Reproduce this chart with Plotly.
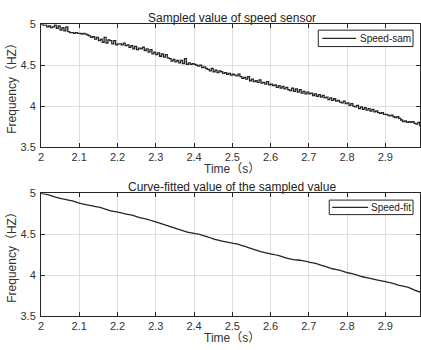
import numpy as np
import plotly.graph_objects as go

# ---- data ----
t_sam = [round(2.0 + 0.005 * i, 3) for i in range(200)]
speed_sam = [
    5.00, 4.99, 4.99, 4.97, 4.98, 4.96, 4.97, 4.99, 4.95, 4.98, 4.93, 4.96, 4.92, 4.97, 4.91, 4.90, 4.90, 4.89, 4.90, 4.89,
    4.89, 4.88, 4.89, 4.88, 4.87, 4.86, 4.84, 4.85, 4.82, 4.84, 4.80, 4.82, 4.78, 4.84, 4.77, 4.81, 4.80, 4.76, 4.80, 4.75,
    4.76, 4.76, 4.75, 4.77, 4.74, 4.75, 4.72, 4.74, 4.70, 4.73, 4.69, 4.71, 4.70, 4.72, 4.68, 4.70, 4.66, 4.69, 4.64, 4.66,
    4.63, 4.65, 4.61, 4.64, 4.60, 4.63, 4.59, 4.58, 4.55, 4.57, 4.54, 4.56, 4.53, 4.56, 4.52, 4.58, 4.51, 4.53, 4.51, 4.52,
    4.51, 4.50, 4.49, 4.50, 4.47, 4.48, 4.46, 4.45, 4.43, 4.46, 4.42, 4.44, 4.41, 4.43, 4.42, 4.40, 4.41, 4.39, 4.40, 4.38,
    4.39, 4.38, 4.37, 4.39, 4.36, 4.34, 4.35, 4.33, 4.36, 4.31, 4.33, 4.30, 4.31, 4.29, 4.32, 4.28, 4.29, 4.27, 4.30, 4.26,
    4.27, 4.25, 4.26, 4.23, 4.25, 4.22, 4.24, 4.21, 4.23, 4.20, 4.19, 4.22, 4.18, 4.21, 4.17, 4.20, 4.16, 4.18, 4.15, 4.17,
    4.15, 4.16, 4.13, 4.15, 4.12, 4.14, 4.11, 4.13, 4.10, 4.11, 4.08, 4.10, 4.07, 4.09, 4.06, 4.07, 4.05, 4.04, 4.06, 4.03,
    4.04, 4.01, 4.03, 4.00, 3.99, 4.01, 3.97, 3.99, 3.96, 3.98, 3.95, 3.97, 3.94, 3.96, 3.93, 3.94, 3.92, 3.91, 3.92, 3.90,
    3.90, 3.89, 3.88, 3.89, 3.87, 3.86, 3.87, 3.85, 3.83, 3.81, 3.82, 3.80, 3.81, 3.80, 3.81, 3.79, 3.78, 3.80, 3.76, 3.78,
]

t_fit = [round(2.0 + 0.02 * i, 2) for i in range(51)]
speed_fit = [
    5.00, 4.98, 4.95, 4.93, 4.91, 4.88, 4.86, 4.84, 4.82, 4.79,
    4.77, 4.75, 4.73, 4.70, 4.68, 4.65, 4.62, 4.59, 4.56, 4.53,
    4.51, 4.49, 4.46, 4.43, 4.41, 4.39, 4.37, 4.34, 4.31, 4.28,
    4.26, 4.24, 4.21, 4.19, 4.18, 4.16, 4.14, 4.11, 4.08, 4.06,
    4.03, 4.01, 3.98, 3.96, 3.94, 3.92, 3.90, 3.87, 3.85, 3.81, 3.78,
]

x_ticks = [2, 2.1, 2.2, 2.3, 2.4, 2.5, 2.6, 2.7, 2.8, 2.9, 3]
x_ticktext = ["2", "2.1", "2.2", "2.3", "2.4", "2.5", "2.6", "2.7", "2.8", "2.9", "3"]
y_ticks = [3.5, 4, 4.5, 5]
y_ticktext = ["3.5", "4", "4.5", "5"]

titles = ["Sampled value of speed sensor", "Curve-fitted value of the sampled value"]
legend_names = ["Speed-sam", "Speed-fit"]
xlabel = "Time（s）"
ylabel = "Frequency（HZ）"

# ---- figure ----
W, H = 421, 350
FONT = "Arial, Liberation Sans, Noto Sans CJK SC, sans-serif"
AX = "#262626"
GRID = "#dedede"
LINE = "#262626"

def py(px):
    return 1 - px / H

def pxx(px):
    return (px - 41) / 380

top_dom = [py(146), py(19)]
bot_dom = [py(321), py(194)]

fig = go.Figure()
fig.add_trace(go.Scatter(x=t_sam, y=speed_sam, mode="lines", line=dict(color=LINE, width=1.3, shape="hv"),
                         name=legend_names[0], xaxis="x", yaxis="y", showlegend=False))
fig.add_trace(go.Scatter(x=t_fit, y=speed_fit, mode="lines", line=dict(color=LINE, width=1.3, shape="spline"),
                         name=legend_names[1], xaxis="x2", yaxis="y2", showlegend=False))

xr = [2, 2.9906]

def xaxis(anchor):
    return dict(range=xr, anchor=anchor, tickvals=x_ticks, ticktext=x_ticktext, ticks="inside", ticklen=4,
                tickcolor=AX, showline=True, linecolor=AX, linewidth=1, mirror="allticks", showgrid=True,
                gridcolor=GRID, gridwidth=1, zeroline=False, tickfont=dict(family=FONT, size=11, color="#333"),
                domain=[0, 1])

def yaxis(anchor, dom):
    return dict(range=[3.5, 5], anchor=anchor, tickvals=y_ticks, ticktext=y_ticktext, ticks="inside", ticklen=4,
                tickcolor=AX, showline=True, linecolor=AX, linewidth=1, mirror="allticks", showgrid=True,
                gridcolor=GRID, gridwidth=1, zeroline=False, tickfont=dict(family=FONT, size=11, color="#333"),
                domain=dom, ticklabelstandoff=2)

annotations = []
shapes = []
for i, (title, ytop, ybot) in enumerate([(titles[0], 19, 146), (titles[1], 194, 321)]):
    annotations.append(dict(text=title, x=pxx(233), y=py(ytop - 7), xref="paper", yref="paper",
                            showarrow=False, xanchor="center", yanchor="middle",
                            font=dict(family=FONT, size=12, color="#222")))
    annotations.append(dict(text=xlabel, x=pxx(233), y=py(ybot + 23), xref="paper", yref="paper",
                            showarrow=False, xanchor="center", yanchor="middle",
                            font=dict(family=FONT, size=12, color="#333")))
    annotations.append(dict(text=ylabel, x=pxx(12), y=py((ytop + ybot) / 2), xref="paper", yref="paper",
                            showarrow=False, xanchor="center", yanchor="middle", textangle=-90,
                            font=dict(family=FONT, size=12, color="#333")))
    annotations.append(dict(text="3", x=pxx(424.6), y=py(ybot + 9), xref="paper", yref="paper",
                            showarrow=False, xanchor="center", yanchor="middle",
                            font=dict(family=FONT, size=11, color="#333")))

# legend boxes (MATLAB style)
leg = [  # box x0, x1, y0, y1, line x0, x1, text x
    (319, 414, 25, 42, 323, 357, 359),
    (330, 414, 201, 216, 333, 369, 370),
]
for name, (bx0, bx1, by0, by1, lx0, lx1, tx) in zip(legend_names, leg):
    shapes.append(dict(type="rect", xref="paper", yref="paper", x0=pxx(bx0), x1=pxx(bx1), y0=py(by1), y1=py(by0),
                       line=dict(color=AX, width=1), fillcolor="white", layer="above"))
    ym = (by0 + by1) / 2
    shapes.append(dict(type="line", xref="paper", yref="paper", x0=pxx(lx0), x1=pxx(lx1), y0=py(ym), y1=py(ym),
                       line=dict(color=LINE, width=1.2), layer="above"))
    annotations.append(dict(text=name, x=pxx(tx), y=py(ym), xref="paper", yref="paper", showarrow=False,
                            xanchor="left", yanchor="middle", font=dict(family=FONT, size=10, color="#222")))

fig.update_layout(
    width=W, height=H,
    margin=dict(l=41, r=0, t=0, b=0),
    paper_bgcolor="white", plot_bgcolor="white",
    xaxis=xaxis("y"), yaxis=yaxis("x", top_dom),
    xaxis2=xaxis("y2"), yaxis2=yaxis("x2", bot_dom),
    annotations=annotations,
    shapes=shapes,
    showlegend=False,
)

fig.write_html("out.html")
